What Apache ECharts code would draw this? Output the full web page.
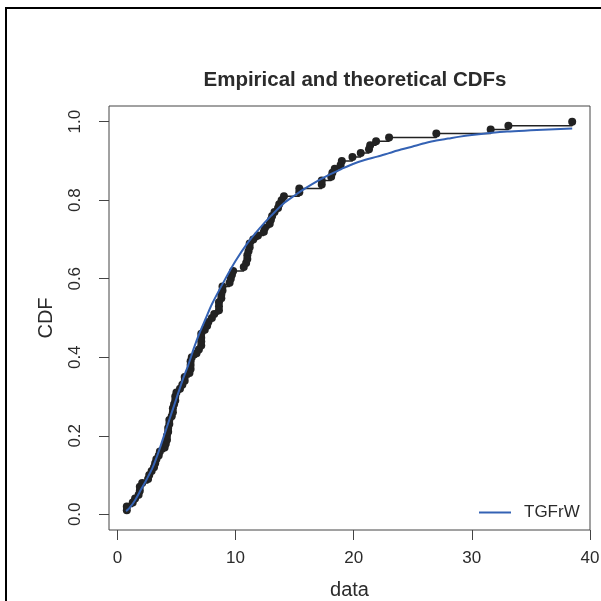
<!DOCTYPE html>
<html>
<head>
<meta charset="utf-8">
<script src="https://cdn.jsdelivr.net/npm/echarts@6/dist/echarts.min.js"></script>
<style>html,body{margin:0;padding:0;background:#fff}#c{width:601px;height:601px}</style>
</head>
<body>
<div id="c"></div>
<script>
var dataX = [0.8, 0.8, 1.3, 1.5, 1.8, 1.9, 1.9, 2.1, 2.6, 2.7, 2.9, 3.1, 3.2, 3.3, 3.5, 3.6, 4.0, 4.1, 4.2, 4.2,
  4.3, 4.3, 4.4, 4.4, 4.6, 4.7, 4.7, 4.8, 4.9, 4.9, 5.0, 5.3, 5.5, 5.7, 5.7, 6.1, 6.2, 6.2, 6.2, 6.3,
  6.7, 6.9, 7.1, 7.1, 7.1, 7.1, 7.4, 7.6, 7.7, 8.0, 8.2, 8.6, 8.6, 8.6, 8.8, 8.8, 8.9, 8.9, 9.5, 9.6,
  9.7, 9.8, 10.7, 10.9, 11.0, 11.0, 11.1, 11.2, 11.2, 11.5, 11.9, 12.4, 12.5, 12.9, 13.0, 13.1, 13.3, 13.6, 13.7, 13.9,
  14.1, 15.4, 15.4, 17.3, 17.3, 18.1, 18.2, 18.4, 18.9, 19.0, 19.9, 20.6, 21.3, 21.4, 21.9, 23.0, 27.0, 31.6, 33.1, 38.5];
// Empirical CDF heights
var ecdfY = [0.01, 0.02, 0.03, 0.04, 0.05, 0.06, 0.07, 0.08, 0.09, 0.10, 0.11, 0.12, 0.13, 0.14, 0.15, 0.16, 0.17, 0.18, 0.19, 0.20,
  0.21, 0.22, 0.23, 0.24, 0.25, 0.26, 0.27, 0.28, 0.29, 0.30, 0.31, 0.32, 0.33, 0.34, 0.35, 0.36, 0.37, 0.38, 0.39, 0.40,
  0.41, 0.42, 0.43, 0.44, 0.45, 0.46, 0.47, 0.48, 0.49, 0.50, 0.51, 0.52, 0.53, 0.54, 0.55, 0.56, 0.57, 0.58, 0.59, 0.60,
  0.61, 0.62, 0.63, 0.64, 0.65, 0.66, 0.67, 0.68, 0.69, 0.70, 0.71, 0.72, 0.73, 0.74, 0.75, 0.76, 0.77, 0.78, 0.79, 0.80,
  0.81, 0.82, 0.83, 0.84, 0.85, 0.86, 0.87, 0.88, 0.89, 0.90, 0.91, 0.92, 0.93, 0.94, 0.95, 0.96, 0.97, 0.98, 0.99, 1.00];
// Theoretical (TGFrW) CDF
var theoX = [0.74, 1, 1.5, 2, 2.5, 3, 3.5, 4, 4.5, 5, 5.5, 6, 6.5, 7, 7.5, 8, 9, 10, 11, 12, 13, 14, 15, 16, 17, 18, 19, 20,
  21, 22, 23, 24, 25, 26, 27, 28, 29, 30, 31.5, 33, 35, 38.5];
var theoY = [0.008, 0.015, 0.036, 0.063, 0.09, 0.12, 0.16, 0.205, 0.25, 0.295, 0.34, 0.38, 0.425, 0.465, 0.50, 0.535, 0.592, 0.645, 0.69, 0.727, 0.76, 0.79, 0.812, 0.832, 0.85, 0.866, 0.88, 0.893,
  0.903, 0.911, 0.920, 0.929, 0.937, 0.945, 0.952, 0.957, 0.962, 0.966, 0.971, 0.975, 0.978, 0.983];
var xTicks = [0, 10, 20, 30, 40];
var yTicks = [0, 0.2, 0.4, 0.6, 0.8, 1.0];

var ecdfPairs = dataX.map(function (x, i) { return [x, ecdfY[i]]; });
var theoPairs = theoX.map(function (x, i) { return [x, theoY[i]]; });

var FONT = '"Liberation Sans", Arial, Helvetica, sans-serif';
var TXT = '#2b2b2b';
var chart = echarts.init(document.getElementById('c'), null, {renderer: 'canvas'});
chart.setOption({
  animation: false,
  backgroundColor: '#fff',
  textStyle: {fontFamily: FONT},
  title: {
    text: 'Empirical and theoretical CDFs',
    left: 350, top: 65, textAlign: 'center',
    textStyle: {fontFamily: FONT, fontSize: 20.5, fontWeight: 'bold', color: TXT}
  },
  grid: {left: 109, right: 11, top: 106, bottom: 71, show: true, borderColor: '#444', borderWidth: 1,
    backgroundColor: 'transparent', containLabel: false, outerBoundsMode: 'none'},
  legend: {
    left: 474, top: 499, itemWidth: 32, itemHeight: 2, itemGap: 10,
    icon: 'rect',
    data: [{name: 'TGFrW'}],
    textStyle: {fontFamily: FONT, fontSize: 17, color: TXT, padding: [0, 0, 0, 8]}
  },
  xAxis: {
    type: 'value', min: -0.708, max: 40.008,
    splitLine: {show: false},
    axisLine: {show: false, onZero: false},
    axisTick: {show: true, inside: false, length: 10, customValues: xTicks, lineStyle: {color: '#444'}},
    axisLabel: {customValues: xTicks, margin: 20, fontSize: 17, color: TXT, fontFamily: FONT},
    name: 'data', nameLocation: 'middle', nameGap: 50,
    nameTextStyle: {fontSize: 20, color: TXT, fontFamily: FONT}
  },
  yAxis: {
    type: 'value', min: -0.04, max: 1.04,
    splitLine: {show: false},
    axisLine: {show: false, onZero: false},
    axisTick: {show: true, inside: false, length: 10, customValues: yTicks, lineStyle: {color: '#444'}},
    axisLabel: {customValues: yTicks, rotate: 90, margin: 25, fontSize: 17, color: TXT, fontFamily: FONT,
      formatter: function (v) { return v.toFixed(1); }},
    name: 'CDF', nameLocation: 'middle', nameGap: 53,
    nameTextStyle: {fontSize: 20, color: TXT, fontFamily: FONT}
  },
  series: [
    {
      name: 'empirical', type: 'line', step: 'end', data: ecdfPairs,
      symbol: 'circle', symbolSize: 8, showSymbol: true,
      lineStyle: {color: '#222', width: 1.5},
      itemStyle: {color: '#222'},
      z: 2
    },
    {
      name: 'TGFrW', type: 'line', data: theoPairs, smooth: 0.3,
      symbol: 'none', showSymbol: false,
      lineStyle: {color: '#3462b4', width: 2},
      itemStyle: {color: '#3462b4'},
      z: 3
    }
  ],
  graphic: [
    {type: 'rect', shape: {x: 6, y: 8, width: 700, height: 700}, style: {fill: 'none', stroke: '#000', lineWidth: 2}, silent: true}
  ]
});
</script>
</body>
</html>
